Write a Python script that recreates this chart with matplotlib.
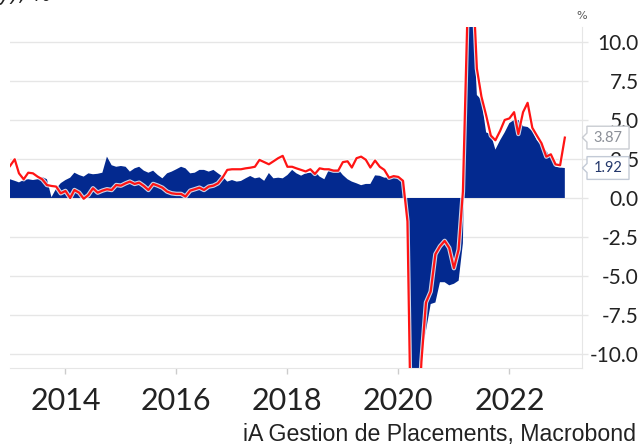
import numpy as np
import pandas as pd
import matplotlib
matplotlib.use("Agg")
import matplotlib.pyplot as plt
import matplotlib.dates as mdates
import matplotlib.patheffects as pe
from matplotlib.path import Path

# ---------------- data (monthly, Jan 2013 .. Jan 2023) ----------------
start = "2013-01-01"
blue_values = [
    1.2, 1.1, 1.0, 1.15, 1.2, 1.15, 1.2, 1.35, 1.2, 0.05,
    0.6, 0.95, 1.15, 1.3, 1.62, 1.47, 1.37, 1.58, 1.52, 1.55,
    1.62, 2.65, 2.1, 2.0, 2.05, 2.0, 1.69, 1.9, 2.0, 1.75,
    1.62, 1.75, 1.47, 1.26, 1.58, 1.69, 1.84, 2.0, 1.9, 1.58,
    1.62, 1.8, 1.8, 1.69, 1.8, 1.58, 1.37, 1.05, 1.15, 1.05,
    1.09, 1.26, 1.41, 1.26, 1.32, 1.1, 1.6, 1.26, 1.3, 1.26,
    1.47, 1.8, 1.58, 1.43, 1.58, 1.62, 1.69, 1.37, 1.2, 1.8,
    1.84, 1.84, 1.47, 1.2, 1.05, 0.94, 0.82, 0.9, 0.9, 1.45,
    1.42, 1.3, 1.32, 1.37, 1.25, 1.0, -1.5, -13.5, -15.0, -9.9,
    -8.5, -6.8, -6.7, -5.4, -5.4, -5.6, -5.5, -5.3, -2.9, 14.0,
    12.9, 6.6, 6.3, 4.2, 4.1, 3.1, 3.7, 4.2, 4.8, 5.0,
    5.0, 4.6, 4.55, 4.3, 3.7, 3.4, 3.0, 2.6, 2.0, 1.95,
    1.92,
]
red_values = [
    2.05, 2.48, 1.58, 1.2, 1.62, 1.58, 1.37, 1.2, 0.83, 0.77,
    0.73, 0.3, 0.45, 0.0, 0.51, 0.34, -0.05, 0.19, 0.62, 0.34,
    0.47, 0.56, 0.51, 0.83, 0.79, 0.94, 1.05, 0.9, 0.98, 0.77,
    0.51, 0.9, 0.79, 0.66, 0.41, 0.3, 0.26, 0.26, 0.09, 0.47,
    0.56, 0.66, 0.51, 0.73, 0.79, 0.94, 1.32, 1.8, 1.84, 1.84,
    1.84, 1.9, 1.94, 2.0, 2.44, 2.3, 2.16, 2.35, 2.55, 2.7,
    2.0, 2.0, 1.9, 1.8, 1.7, 1.84, 1.54, 1.9, 1.84, 1.84,
    1.75, 1.75, 2.3, 2.35, 1.95, 2.55, 2.65, 2.45, 1.95, 2.4,
    2.0, 1.8, 1.3, 1.4, 1.35, 1.1, -1.5, -20.0, -17.0, -10.5,
    -6.7, -6.0, -3.6, -3.1, -2.75, -3.2, -4.5, -3.3, 0.4, 12.2,
    15.0, 8.3, 6.5, 5.3, 4.0, 3.7, 4.3, 5.0, 5.1, 5.5,
    4.1, 5.5, 6.1, 4.5, 4.0, 3.5, 2.65, 2.8, 2.15, 2.1,
    3.87,
]
dates = pd.date_range(start, periods=len(blue_values), freq="MS")
x_tick_years = [2014, 2016, 2018, 2020, 2022]
y_ticks = [-10.0, -7.5, -5.0, -2.5, 0.0, 2.5, 5.0, 7.5, 10.0]
last_red_label = "3.87"
last_blue_label = "1.92"
source_text = "iA Gestion de Placements, Macrobond"

BLUE = "#03298f"
RED = "#ff1414"
GRID = "#e6e6e6"

# ---------------- figure ----------------
fig = plt.figure(figsize=(6.4, 4.47), dpi=100)
W, H = 640, 447
ax = fig.add_axes([10 / W, 1 - 368 / H, (582 - 10) / W, (368 - 27) / H])

ax.fill_between(dates, 0, blue_values, color=BLUE, lw=0, zorder=2)
ax.plot(dates, red_values, color=RED, lw=1.6, zorder=3,
        path_effects=[pe.Stroke(linewidth=3.2, foreground="white", alpha=0.8), pe.Normal()])

ax.set_ylim(-10.9, 10.96)
ax.set_xlim(pd.Timestamp("2013-01-01"), pd.Timestamp("2023-04-24"))

ax.set_yticks(y_ticks)
ax.yaxis.tick_right()
ax.set_yticklabels([f"{v:.1f}" for v in y_ticks])
for lbl in ax.get_yticklabels():
    lbl.set_horizontalalignment("right")
ax.tick_params(axis="y", length=4, width=1, color=GRID, pad=37,
               labelsize=15, labelcolor="#222222")
ax.grid(axis="y", color=GRID, lw=1, zorder=0)
ax.set_axisbelow(True)

ax.set_xticks([pd.Timestamp(f"{y}-01-01") for y in x_tick_years])
ax.xaxis.set_major_formatter(mdates.DateFormatter("%Y"))
ax.tick_params(axis="x", length=4, width=1, color="#cccccc", pad=9.5,
               labelsize=22, labelcolor="#222222")
for lbl in ax.get_xticklabels() + ax.get_yticklabels():
    lbl.set_fontfamily("Lato")

for s in ["left", "top"]:
    ax.spines[s].set_visible(False)
ax.spines["bottom"].set_color(GRID)
ax.spines["right"].set_color(GRID)


# callout labels at right edge
def tag_box(x0, y0, width, height, mutation_size):
    padx = 0.45 * mutation_size
    pady = 0.3 * mutation_size
    x0 -= padx
    y0 -= pady
    x1 = x0 + width + 2 * padx
    y1 = y0 + height + 2 * pady
    ym = 0.5 * (y0 + y1)
    h = 0.2 * (y1 - y0)
    verts = [(x0, y0), (x1, y0), (x1, y1), (x0, y1), (x0, ym + h),
             (x0 - 1.0 * h, ym), (x0, ym - h), (x0, y0)]
    return Path(verts, closed=True)


trans = ax.get_yaxis_transform()
ax.text(1.0 + 26 / 572, red_values[-1], last_red_label, transform=trans,
        ha="center", va="center", fontsize=10.5, color="#8b8f97",
        family="Lato", clip_on=False, zorder=5,
        bbox=dict(boxstyle=tag_box, fc="white", ec="#c9ccd2", lw=1))
ax.text(1.0 + 26 / 572, blue_values[-1], last_blue_label, transform=trans,
        ha="center", va="center", fontsize=10.5, color="#24386b",
        family="Lato", clip_on=False, zorder=5,
        bbox=dict(boxstyle=tag_box, fc="white", ec="#c3cad6", lw=1))

fig.text(582 / W, 1 - 16 / H, "%", ha="center", va="center", fontsize=8,
         color="#555555")
fig.text(52 / W, 1 - 1 / H, "(y/y), %", ha="right", va="baseline",
         fontsize=15, color="#222222", style="italic")
fig.text(636 / W, 1 - 441 / H, source_text, ha="right", va="baseline",
         fontsize=16.7, color="#222222", family="Liberation Sans")

fig.savefig("out.png", dpi=100)
